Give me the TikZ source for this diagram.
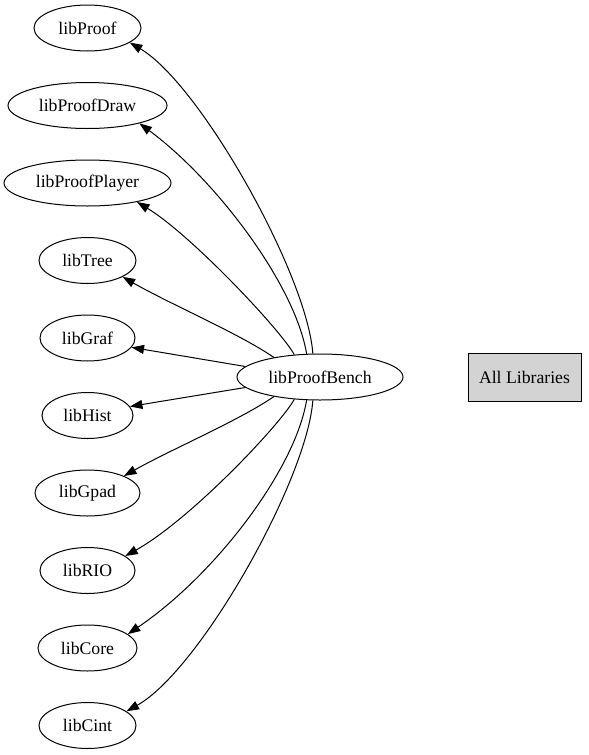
\documentclass[tikz,border=0pt]{standalone}
\usepackage{fontspec}
\setmainfont{Liberation Serif}
\usetikzlibrary{shapes.geometric,arrows.meta}
\begin{document}
\begin{tikzpicture}[x=1pt,y=-1pt,
  lib/.style={ellipse,draw,line width=1pt,inner sep=0pt,minimum height=46pt,font=\fontsize{17.7}{20}\selectfont},
  allbox/.style={rectangle,draw,line width=1pt,fill={rgb,255:red,211;green,211;blue,211},minimum width=113pt,minimum height=48pt,inner sep=0pt,font=\fontsize{17.7}{20}\selectfont},
  dep/.style={line width=1pt,-{Triangle[length=12.5pt,width=9pt]}}]
\useasboundingbox (0,0) rectangle (589,755);
\node[lib,minimum width=107pt] (proof) at (87.5,28) {libProof};
\node[lib,minimum width=159pt] (draw) at (87.5,105.5) {libProofDraw};
\node[lib,minimum width=167pt] (player) at (87.5,183) {libProofPlayer};
\node[lib,minimum width=97pt] (tree) at (87.5,260.5) {libTree};
\node[lib,minimum width=95pt] (graf) at (87.5,338) {libGraf};
\node[lib,minimum width=91pt] (hist) at (87.5,415.5) {libHist};
\node[lib,minimum width=105pt] (gpad) at (87.5,493) {libGpad};
\node[lib,minimum width=95pt] (rio) at (87.5,570.5) {libRIO};
\node[lib,minimum width=99pt] (core) at (87.5,648) {libCore};
\node[lib,minimum width=97pt] (cint) at (87.5,725.5) {libCint};
\node[lib,minimum width=166pt] (bench) at (320,377) {libProofBench};
\node[allbox] (all) at (524.5,377) {All Libraries};
\draw[dep] (bench.107) .. controls (307,274) and (200,84) .. (proof.-19);
\draw[dep] (bench.120) .. controls (295,284) and (215,179) .. (draw.-19);
\draw[dep] (bench.139) .. controls (280,329) and (190,234) .. (player.-21);
\draw[dep] (bench.157) .. controls (240,334) and (170,304) .. (tree.-25);
\draw[dep] (bench.172) -- (graf.-12);
\draw[dep] (bench.188) -- (hist.12);
\draw[dep] (bench.203) .. controls (240,420) and (170,450) .. (gpad.25);
\draw[dep] (bench.221) .. controls (280,425) and (190,520) .. (rio.21);
\draw[dep] (bench.240) .. controls (295,470) and (215,575) .. (core.19);
\draw[dep] (bench.253) .. controls (307,480) and (200,670) .. (cint.20);
\end{tikzpicture}
\end{document}
